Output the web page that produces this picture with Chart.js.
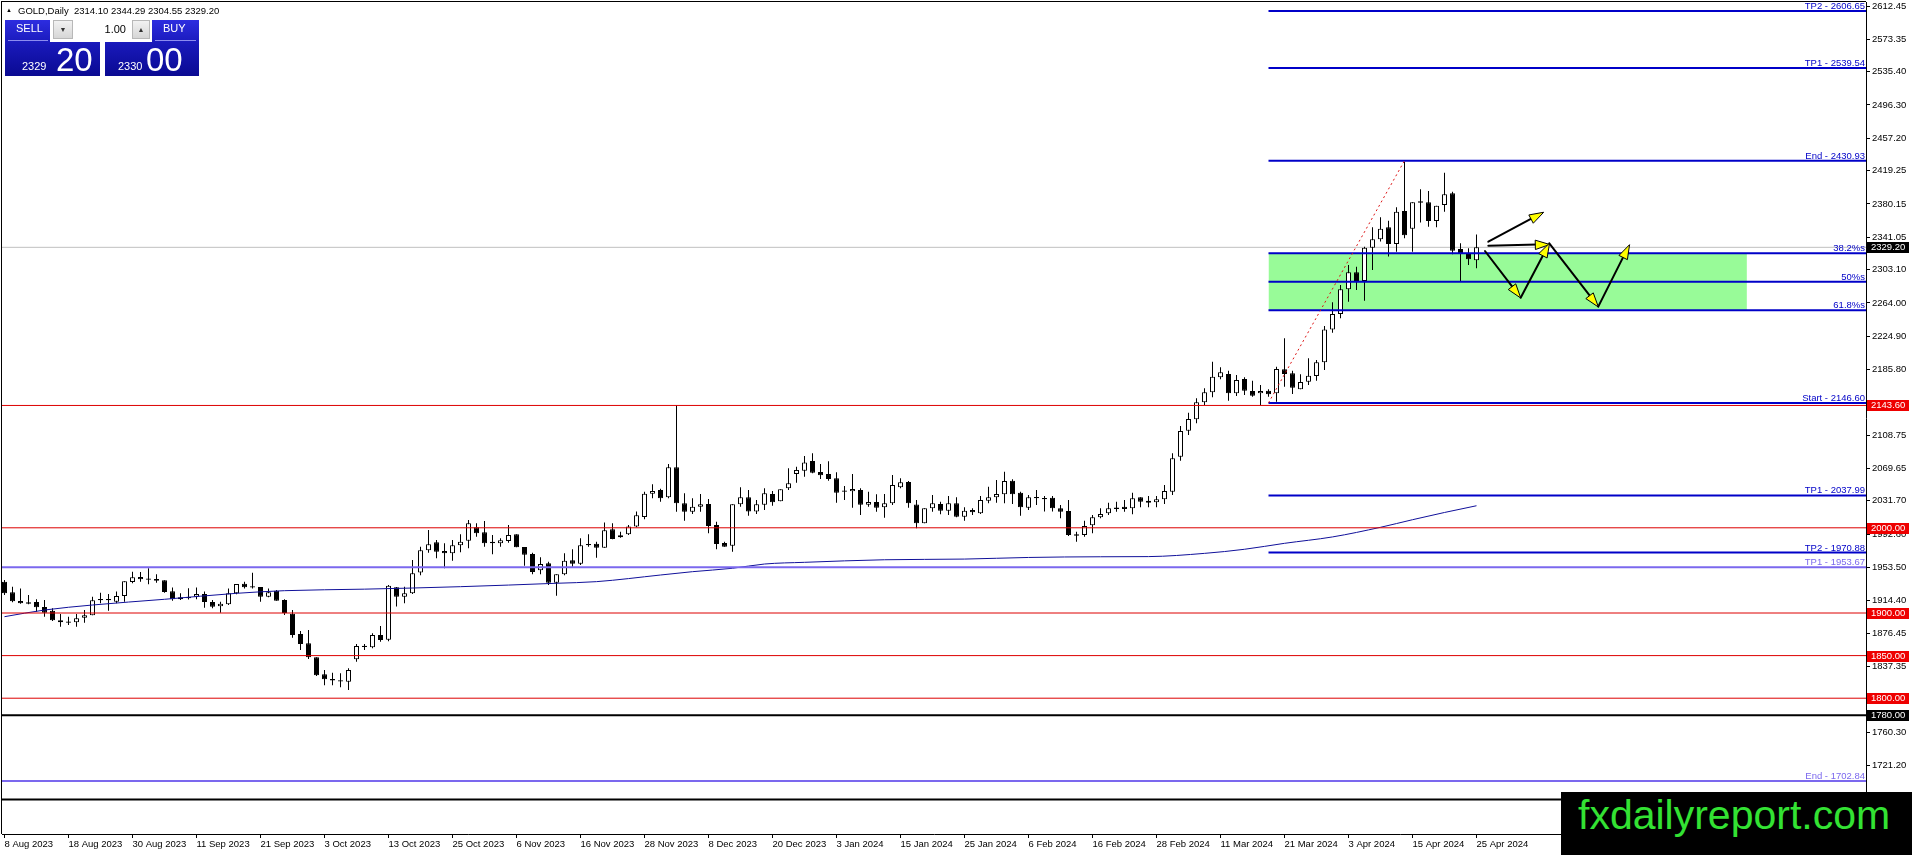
<!DOCTYPE html>
<html><head><meta charset="utf-8">
<script src="https://cdn.jsdelivr.net/npm/chart.js@4.4.1/dist/chart.umd.min.js"></script>
<style>
html,body{margin:0;padding:0;background:#fff;overflow:hidden}
#wrap{position:relative;width:1912px;height:855px;font-family:"Liberation Sans",Arial,sans-serif}
#c{position:absolute;left:0;top:0}
.abs{position:absolute;white-space:pre}
#hdr{left:18px;top:6px;font-size:9.5px;line-height:9px;color:#000}
#tri{left:6px;top:7px;font-size:6px;line-height:6px;color:#000}
.col{position:absolute;top:20px;height:56px;background:linear-gradient(#2d2de0,#1818b8 45%,#0a0a92)}
#lcol{left:5px;width:95px}
#rcol{left:105px;width:94px}
.sep{position:absolute;top:40px;height:1px;background:#8c8cf0}
#ctrl{position:absolute;left:50px;top:18px;width:102px;height:24px;background:#fff}
.spin{position:absolute;top:2px;height:19px;background:linear-gradient(#f2f2f2,#d6d6d6);border:1px solid #b8b8b8;box-sizing:border-box;color:#333;font-size:7px;line-height:18px;text-align:center}
#lot{position:absolute;left:23px;top:2px;width:59px;height:19px;text-align:right;font-size:11px;line-height:19px;color:#000;padding-right:6px;box-sizing:border-box}
.wt{color:#fff}
#wm{position:absolute;left:1561px;top:792px;width:351px;height:63px;background:#000}
#wmt{position:absolute;left:17px;top:3px;font-size:41px;line-height:41px;color:#33e233;white-space:pre}
</style></head>
<body>
<div id="wrap">
<canvas id="c" width="1912" height="855"></canvas>
<div class="abs" id="tri">▲</div>
<div class="abs" id="hdr">GOLD,Daily  2314.10 2344.29 2304.55 2329.20</div>
<div class="col" id="lcol"></div>
<div class="col" id="rcol"></div>
<div class="sep" style="left:8px;width:40px"></div>
<div class="sep" style="left:155px;width:41px"></div>
<div id="ctrl">
  <div class="spin" style="left:3px;width:20px">▼</div>
  <div id="lot">1.00</div>
  <div class="spin" style="left:82px;width:18px">▲</div>
</div>
<div class="abs wt" style="left:16px;top:23px;font-size:11px;line-height:11px">SELL</div>
<div class="abs wt" style="left:163px;top:23px;font-size:11px;line-height:11px">BUY</div>
<div class="abs wt" style="left:22px;top:61px;font-size:11px;line-height:11px">2329</div>
<div class="abs wt" style="left:56px;top:43px;font-size:33px;line-height:33px">20</div>
<div class="abs wt" style="left:118px;top:61px;font-size:11px;line-height:11px">2330</div>
<div class="abs wt" style="left:146px;top:43px;font-size:33px;line-height:33px">00</div>
<div id="wm"><div id="wmt">fxdailyreport.com</div></div>
</div>
<script>
// ---------------- DATA ----------------
const barOpen = [1936.8,1924.3,1914.1,1912.5,1912.9,1907.0,1902.7,1891.4,1890.0,1889.1,1894.5,1897.3,1916.5,1915.0,1913.3,1920.0,1936.4,1942.3,1940.6,1939.9,
1938.4,1925.4,1918.4,1917.2,1919.2,1922.3,1912.9,1907.8,1910.2,1923.1,1934.4,1931.5,1930.5,1919.2,1926.2,1915.3,1899.2,1875.4,1864.4,1848.0,
1828.0,1822.4,1821.0,1819.4,1845.6,1860.0,1859.7,1874.2,1868.5,1930.2,1919.2,1923.1,1947.4,1973.6,1983.0,1972.8,1970.1,1979.4,1984.9,2000.6,
1994.7,1983.7,1981.8,1984.6,1992.4,1977.5,1969.3,1950.1,1958.3,1935.6,1945.4,1961.8,1957.9,1979.6,1981.4,1976.7,1998.2,1988.8,1992.4,2001.4,
2012.7,2040.1,2044.4,2035.8,2071.0,2028.7,2018.9,2024.8,2028.0,2003.3,1982.2,1979.0,2027.6,2035.8,2019.0,2027.2,2039.7,2031.1,2046.3,2063.2,
2067.1,2078.4,2065.5,2063.1,2058.1,2043.9,2042.8,2044.4,2027.2,2030.3,2024.0,2028.7,2047.5,2053.8,2027.5,2005.3,2022.9,2027.9,2020.1,2028.7,
2013.1,2020.9,2017.0,2031.9,2035.8,2039.3,2055.3,2041.2,2023.6,2034.6,2034.9,2035.4,2022.9,2019.7,1992.3,1991.6,2002.9,2012.3,2017.0,2022.2,
2024.8,2022.9,2035.8,2031.9,2029.9,2033.4,2042.4,2083.5,2114.0,2127.3,2147.3,2159.0,2176.6,2180.5,2157.8,2174.7,2160.6,2157.8,2160.9,2157.8,
2186.0,2181.3,2162.5,2171.5,2178.2,2194.2,2232.9,2251.0,2279.9,2299.9,2289.7,2328.8,2338.6,2352.7,2333.1,2371.8,2351.1,2381.6,2382.0,2360.1,
2378.9,2392.6,2327.3,2321.4,2314.10];
const barHigh = [1938.7,1930.9,1928.9,1921.2,1916.1,1915.3,1905.5,1898.9,1895.7,1898.9,1903.5,1919.2,1923.9,1922.3,1925.1,1937.2,1948.5,1948.1,1952.4,1945.4,
1938.4,1929.8,1923.1,1929.0,1929.8,1925.1,1915.3,1913.3,1928.9,1934.0,1936.8,1947.3,1930.5,1928.9,1927.0,1916.1,1903.5,1878.9,1880.1,1848.0,
1833.1,1830.0,1829.2,1835.1,1863.6,1863.6,1876.2,1884.8,1932.9,1930.5,1930.9,1962.2,1977.9,1997.4,1985.7,1981.8,1985.7,1992.4,2009.2,2005.3,
2008.0,1991.6,1987.7,2003.3,1992.4,1977.5,1970.8,1965.4,1960.3,1945.4,1970.1,1974.8,1987.7,1992.4,1983.7,2006.1,2005.3,1995.5,2003.3,2019.0,
2042.4,2051.0,2045.9,2074.9,2144.1,2040.5,2034.6,2039.7,2033.8,2007.2,1983.7,2027.6,2047.5,2044.4,2032.7,2046.3,2043.2,2045.2,2069.8,2071.7,
2084.3,2087.4,2074.9,2078.0,2065.1,2049.1,2063.2,2046.3,2042.4,2039.3,2039.7,2062.0,2058.1,2055.0,2032.6,2022.9,2038.5,2030.7,2037.3,2035.8,
2024.0,2022.9,2037.3,2048.3,2056.1,2065.9,2056.9,2042.4,2038.5,2044.4,2037.3,2037.3,2026.8,2032.6,1995.5,2008.4,2015.0,2022.9,2029.5,2030.7,
2032.6,2041.2,2035.8,2037.3,2037.3,2050.2,2087.4,2119.5,2135.1,2152.0,2163.7,2195.0,2188.4,2184.4,2179.4,2176.6,2172.7,2167.6,2162.5,2189.1,
2222.4,2184.4,2180.1,2198.9,2197.0,2236.9,2264.7,2285.0,2308.5,2306.5,2330.0,2352.7,2364.4,2360.5,2376.1,2429.7,2382.0,2397.3,2395.3,2378.1,
2416.8,2394.5,2333.9,2328.0,2344.29];
const barLow = [1921.0,1912.5,1910.9,1910.2,1901.6,1895.7,1890.6,1884.0,1885.9,1884.0,1888.7,1897.3,1911.4,1902.7,1911.4,1913.3,1934.8,1936.8,1933.7,1935.6,
1923.9,1914.5,1915.3,1916.0,1916.1,1906.3,1905.5,1900.4,1909.4,1921.9,1928.9,1928.9,1913.3,1918.4,1914.5,1897.7,1871.1,1856.6,1846.0,1826.1,
1815.1,1815.1,1812.8,1809.7,1842.9,1856.6,1858.5,1866.3,1867.0,1907.5,1911.4,1922.3,1944.3,1970.8,1964.2,1952.5,1961.4,1971.2,1975.9,1989.6,
1977.9,1968.9,1977.9,1982.6,1977.1,1955.6,1945.4,1945.4,1932.9,1920.4,1944.2,1954.4,1956.4,1977.9,1964.9,1976.7,1986.5,1988.4,1991.6,2000.6,
2010.0,2034.6,2030.7,2034.6,2018.9,2008.4,2016.2,2018.9,1993.5,1974.8,1977.9,1972.0,2024.8,2014.3,2016.2,2020.9,2026.0,2031.1,2044.4,2053.0,
2060.0,2063.9,2057.3,2055.3,2029.5,2032.6,2023.6,2015.0,2024.8,2018.9,2011.9,2026.8,2046.3,2023.6,1999.4,2005.3,2018.9,2015.8,2015.0,2012.3,
2008.4,2015.0,2016.2,2028.7,2029.5,2028.7,2027.9,2014.3,2020.9,2026.8,2019.0,2019.0,2011.1,1990.4,1983.7,1989.6,1993.5,2011.1,2015.0,2018.9,
2018.9,2015.8,2024.0,2024.0,2024.0,2028.0,2038.5,2078.8,2108.9,2122.6,2144.1,2153.1,2174.3,2149.2,2154.7,2155.9,2153.9,2144.1,2153.9,2148.1,
2165.7,2157.1,2162.5,2167.6,2172.7,2185.2,2229.0,2245.9,2265.4,2279.1,2266.6,2302.6,2335.9,2318.3,2324.1,2339.8,2324.1,2358.2,2353.4,2352.7,
2371.0,2321.0,2289.7,2308.5,2304.55];
const barClose = [1923.1,1913.7,1911.4,1911.0,1906.7,1900.4,1891.4,1889.1,1888.6,1893.8,1897.3,1914.9,1914.9,1916.5,1920.0,1937.2,1941.9,1939.5,1939.1,1938.0,
1924.7,1916.1,1916.1,1918.7,1922.3,1912.9,1907.4,1911.0,1923.1,1934.0,1930.1,1930.0,1919.2,1924.3,1914.5,1900.0,1874.2,1863.6,1848.0,1826.9,
1822.2,1820.9,1819.5,1833.1,1861.3,1861.5,1874.2,1868.3,1932.1,1919.2,1923.1,1946.6,1973.6,1980.6,1972.0,1970.1,1979.4,1983.7,2005.3,1993.5,
1981.8,1981.8,1985.3,1991.6,1977.1,1968.5,1948.2,1957.5,1935.6,1945.4,1961.4,1957.9,1979.4,1981.1,1976.7,1997.0,1986.9,1991.2,2001.4,2014.7,
2040.1,2043.2,2034.6,2071.0,2028.7,2018.9,2024.8,2027.6,2002.1,1981.0,1977.9,2027.6,2035.8,2019.0,2027.6,2040.5,2029.9,2045.2,2052.2,2067.9,
2076.8,2064.7,2061.6,2057.3,2041.2,2042.4,2045.5,2027.2,2030.3,2023.6,2028.7,2050.2,2053.4,2028.7,2005.3,2022.9,2028.7,2020.1,2028.7,2013.1,
2020.1,2018.2,2032.6,2035.8,2039.7,2054.9,2039.3,2024.0,2035.8,2036.1,2033.4,2022.9,2018.9,1991.6,1990.8,2002.1,2012.3,2016.2,2022.9,2023.7,
2022.1,2034.6,2030.7,2029.5,2033.6,2043.2,2081.6,2113.6,2127.7,2147.3,2159.0,2177.4,2182.5,2157.8,2173.5,2161.0,2155.1,2160.6,2156.7,2186.4,
2180.5,2164.5,2171.1,2178.5,2194.2,2232.9,2251.0,2279.9,2299.9,2289.7,2328.8,2338.6,2351.1,2333.1,2371.0,2343.3,2382.0,2383.2,2360.1,2378.1,
2391.4,2325.3,2321.4,2315.1,2329.20];

const dateLabels = ["8 Aug 2023","18 Aug 2023","30 Aug 2023","11 Sep 2023","21 Sep 2023","3 Oct 2023","13 Oct 2023","25 Oct 2023","6 Nov 2023","16 Nov 2023","28 Nov 2023","8 Dec 2023","20 Dec 2023","3 Jan 2024","15 Jan 2024","25 Jan 2024","6 Feb 2024","16 Feb 2024","28 Feb 2024","11 Mar 2024","21 Mar 2024","3 Apr 2024","15 Apr 2024","25 Apr 2024"];
const dateLabelBars = [0,8,16,24,32,40,48,56,64,72,80,88,96,104,112,120,128,136,144,152,160,168,176,184];
const priceTicks = [2612.45,2573.35,2535.40,2496.30,2457.20,2419.25,2380.15,2341.05,2303.10,2264.00,2224.90,2185.80,2108.75,2069.65,2031.70,1992.60,1953.50,1914.40,1876.45,1837.35,1760.30,1721.20];

const maBars   = [0,5,11,20,29,35,45,57,69,74,82,86,91,95,100,110,120,128,137,143,150,155,160,166,172,176,180,184];
const maValues = [1895.7,1903.5,1909.4,1916.1,1923.1,1926.2,1928.0,1930.9,1934.9,1936.8,1944.6,1948.5,1952.5,1957.5,1959.5,1962.5,1963.3,1965.2,1966.0,1966.2,1970.0,1974.8,1981.8,1989.3,2000.6,2009.5,2018.0,2025.9];

const fibValues = [2606.65,2539.54,2430.93,2322.32,2288.77,2255.21,2146.60,2037.99,1970.88];
const fibLabels = ["TP2 - 2606.65","TP1 - 2539.54","End - 2430.93","38.2%s","50%s","61.8%s","Start - 2146.60","TP1 - 2037.99","TP2 - 1970.88"];
const fibAnchorBar = 158;
const trendFromBar = 158, trendFromPrice = 2146.60, trendToBar = 175, trendToPrice = 2430.93;
const zoneTop = 2322.32, zoneBottom = 2255.21, zoneFromBar = 158, zoneToBar = 217.8;

const oldFibValues = [1953.67,1702.84];
const oldFibLabels = ["TP1 - 1953.67","End - 1702.84"];
const redLevels = [2143.60,2000.00,1900.00,1850.00,1800.00];
const blackLevels = [1780.00,1681.0];
const blackLevelLabels = ["1780.00",""];
const bidPrice = 2329.20;

const arrowTailBar   = [185.48,185.48,185.06,189.52,193.10,199.22];
const arrowTailPrice = [2335.84,2331.10,2324.90,2270.10,2333.90,2259.55];
const arrowTipBar    = [192.35,193.10,189.52,193.10,199.22,203.10];
const arrowTipPrice  = [2370.28,2332.70,2270.10,2333.90,2259.55,2332.00];

// axis ranges
const X_MIN = -0.3125, X_MAX = 232.6875, Y_MIN = 1640.62, Y_MAX = 2617.15;

// ---------------- STYLE ----------------
const FONT = '"Liberation Sans", Arial, sans-serif';
const FS = 9.5;
const FIB_COLOR = '#0000c8', OLD_COLOR = '#7b68ee', RED = '#dd0000';

function hLine(v, x0, x1, color, width, order, dash) {
  return {type:'line', data:[{x:x0,y:v},{x:x1,y:v}], borderColor:color, borderWidth:width,
          pointRadius:0, order:order, borderDash:dash||[], fill:false, tension:0};
}

const datasets = [];
datasets.push({
  type:'bar', order:14, grouped:false, maxBarThickness:5, inflateAmount:0, borderSkipped:false,
  data: barOpen.map((o,i)=>({x:i, y:[Math.min(o,barClose[i]), Math.max(o,barClose[i])]})),
  backgroundColor: c => barClose[c.dataIndex] >= barOpen[c.dataIndex] ? '#ffffff' : '#000000',
  borderColor:'#000000', borderWidth:1
});
datasets.push({
  type:'bar', order:15, grouped:false, maxBarThickness:1, inflateAmount:0, borderSkipped:false,
  data: barOpen.map((o,i)=>({x:i, y:[barLow[i], barHigh[i]]})),
  backgroundColor:'#000000', borderWidth:0
});
datasets.push({type:'line', order:20, data:[{x:zoneFromBar,y:zoneTop},{x:zoneToBar,y:zoneTop}],
  borderWidth:0, borderColor:'rgba(0,0,0,0)', pointRadius:0, fill:{value:zoneBottom}, backgroundColor:'#98fb98'});
datasets.push(hLine(bidPrice, X_MIN, X_MAX, '#c0c0c0', 1, 16));
datasets.push({type:'line', order:12, data: maBars.map((b,i)=>({x:b,y:maValues[i]})),
  borderColor:'#10109a', borderWidth:1, pointRadius:0, fill:false, cubicInterpolationMode:'monotone'});
redLevels.forEach(v => datasets.push(hLine(v, X_MIN, X_MAX, RED, 1, 6)));
blackLevels.forEach(v => datasets.push(hLine(v, X_MIN, X_MAX, '#000000', 2, 6)));
oldFibValues.forEach(v => datasets.push(hLine(v, X_MIN, X_MAX, OLD_COLOR, 2, 5)));
fibValues.forEach(v => datasets.push(hLine(v, fibAnchorBar, X_MAX, FIB_COLOR, 2, 4)));
datasets.push({type:'line', order:3, data:[{x:trendFromBar,y:trendFromPrice},{x:trendToBar,y:trendToPrice}],
  borderColor:'#dc1414', borderWidth:1, borderDash:[2,3], pointRadius:0, fill:false});

function drawArrow(ctx, x0, y0, x1, y1) {
  const ang = Math.atan2(y1 - y0, x1 - x0);
  const L = 14, W = 4.5;
  const c = Math.cos(ang), s = Math.sin(ang);
  const bx = x1 - L * c, by = y1 - L * s;
  ctx.beginPath(); ctx.moveTo(x0, y0); ctx.lineTo(bx + 2*c, by + 2*s);
  ctx.strokeStyle = '#000'; ctx.lineWidth = 2; ctx.lineCap = 'round'; ctx.stroke();
  ctx.beginPath(); ctx.moveTo(x1, y1);
  ctx.lineTo(bx + W * s, by - W * c); ctx.lineTo(bx - W * s, by + W * c); ctx.closePath();
  ctx.fillStyle = '#ffff00'; ctx.fill(); ctx.lineWidth = 1; ctx.strokeStyle = '#000'; ctx.stroke();
}

const overlayPlugin = {
  id: 'mt4overlay',
  afterDatasetsDraw(chart) {
    const {ctx, chartArea: a, scales: {x, y}} = chart;
    ctx.save();
    ctx.beginPath(); ctx.rect(a.left, a.top, a.right - a.left, a.bottom - a.top); ctx.clip();
    for (let i = 0; i < arrowTipBar.length; i++) {
      drawArrow(ctx, x.getPixelForValue(arrowTailBar[i]), y.getPixelForValue(arrowTailPrice[i]),
                     x.getPixelForValue(arrowTipBar[i]), y.getPixelForValue(arrowTipPrice[i]));
    }
    ctx.font = FS + 'px ' + FONT; ctx.textAlign = 'right'; ctx.textBaseline = 'alphabetic';
    fibValues.forEach((v, i) => { ctx.fillStyle = FIB_COLOR; ctx.fillText(fibLabels[i], a.right - 1, Math.round(y.getPixelForValue(v)) - 2); });
    oldFibValues.forEach((v, i) => { ctx.fillStyle = OLD_COLOR; ctx.fillText(oldFibLabels[i], a.right - 1, Math.round(y.getPixelForValue(v)) - 2); });
    ctx.restore();
  },
  afterDraw(chart) {
    const {ctx, chartArea: a, scales: {y}} = chart;
    ctx.save();
    ctx.fillStyle = '#000';
    ctx.fillRect(a.left - 1, a.top - 1, 1, a.bottom - a.top + 1);
    ctx.fillRect(a.left - 1, a.top - 1, a.right - a.left + 1, 1);
    ctx.font = FS + 'px ' + FONT; ctx.textAlign = 'left'; ctx.textBaseline = 'middle';
    const box = (v, bg, txt) => {
      const py = Math.round(y.getPixelForValue(v));
      ctx.fillStyle = bg; ctx.fillRect(a.right + 1, py - 5, 42, 11);
      ctx.fillStyle = '#fff'; ctx.fillText(txt, a.right + 5, py + 0.5);
    };
    redLevels.forEach(v => box(v, '#ee0000', v.toFixed(2)));
    blackLevels.forEach((v, i) => { if (blackLevelLabels[i]) box(v, '#000', blackLevelLabels[i]); });
    box(bidPrice, '#000', bidPrice.toFixed(2));
    ctx.restore();
  }
};

new Chart(document.getElementById('c'), {
  type: 'bar',
  data: { datasets },
  plugins: [overlayPlugin],
  options: {
    responsive: false, animation: false, devicePixelRatio: 1,
    layout: { padding: { left: 2, top: 2, right: 0, bottom: 0 } },
    plugins: { legend: { display: false }, tooltip: { enabled: false } },
    scales: {
      x: {
        type: 'linear', position: 'bottom', min: X_MIN, max: X_MAX, offset: false,
        grid: { drawOnChartArea: false, tickLength: 4, color: '#000', offset: false },
        border: { display: true, color: '#000', width: 1 },
        ticks: { autoSkip: false, maxRotation: 0, align: 'start', padding: 1, color: '#000',
                 font: { family: FONT, size: FS },
                 callback: v => { const k = dateLabelBars.indexOf(v); return k >= 0 ? dateLabels[k] : ''; } },
        afterBuildTicks: s => { s.ticks = dateLabelBars.map(v => ({ value: v })); },
        afterFit: s => { s.height = 21; s.paddingLeft = 0; s.paddingRight = 0; }
      },
      y: {
        type: 'linear', position: 'right', min: Y_MIN, max: Y_MAX,
        grid: { drawOnChartArea: false, tickLength: 4, color: '#000' },
        border: { display: true, color: '#000', width: 1 },
        ticks: { autoSkip: false, padding: 2, color: '#000', font: { family: FONT, size: FS },
                 callback: v => Number(v).toFixed(2) },
        afterBuildTicks: s => { s.ticks = priceTicks.map(v => ({ value: v })); },
        afterFit: s => { s.width = 46; s.paddingTop = 0; s.paddingBottom = 0; }
      }
    }
  }
});
</script>
</body></html>
